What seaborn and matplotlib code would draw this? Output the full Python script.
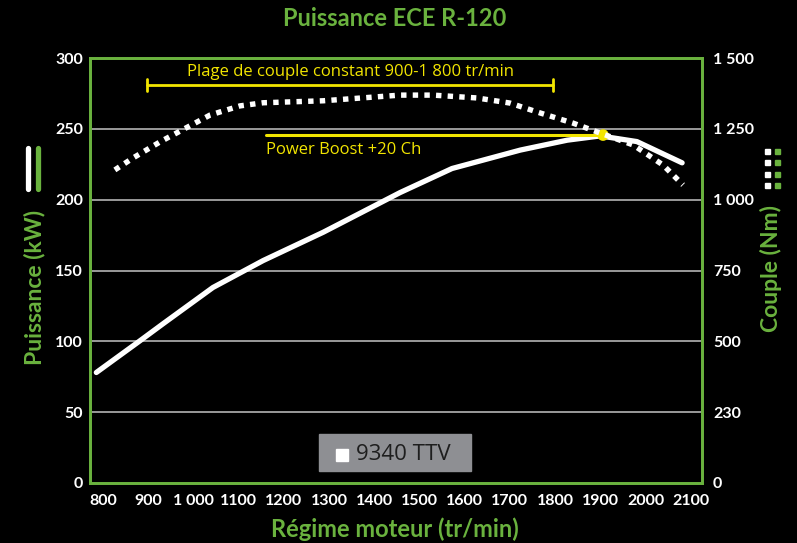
import matplotlib
matplotlib.use("Agg")
import matplotlib.pyplot as plt
import seaborn as sns
import pandas as pd
from matplotlib.lines import Line2D
from matplotlib.patches import Rectangle

# ---- data ----
power_rpm = [785, 882, 933, 1043, 1154, 1287, 1457, 1572, 1723, 1827, 1900, 1981, 2081]
power_kw = [78, 100.5, 112.5, 138, 157, 177, 205, 222, 235, 242, 245, 241, 226]
torque_rpm = [826, 866, 926, 975, 1037, 1103, 1154, 1287, 1457, 1530, 1627, 1700, 1767, 1840, 1900, 1973, 2039, 2083]
torque_nm = [1105, 1147, 1204, 1246, 1299, 1331, 1342, 1349, 1369, 1369, 1359, 1341, 1306, 1270, 1235, 1193, 1122, 1052]
x_ticks = [800, 900, 1000, 1100, 1200, 1300, 1400, 1500, 1600, 1700, 1800, 1900, 2000, 2100]
x_labels = ["800", "900", "1 000", "1100", "1200", "1300", "1400", "1500", "1600", "1700", "1800", "1900", "2000", "2100"]
left_ticks = [0, 50, 100, 150, 200, 250, 300]
right_ticks = [0, 250, 500, 750, 1000, 1250, 1500]
right_labels = ["0", "230", "500", "750", "1 000", "1 250", "1 500"]
boost_start, boost_end, boost_kw = 1160, 1906, 245.6
range_start, range_end, range_kw = 897, 1796, 281

GREEN = "#6ab23e"
YELLOW = "#f2e500"
BG = "#000000"

sns.set_style("dark")
plt.rcParams["font.family"] = ["Lato", "DejaVu Sans"]

fig = plt.figure(figsize=(7.97, 5.43), dpi=100, facecolor=BG)
ax = fig.add_axes([90/797, 1-483/543, (702-90)/797, (483-58)/543])
ax.set_facecolor(BG)
ax2 = ax.twinx()

dfp = pd.DataFrame({"rpm": power_rpm, "kw": power_kw})
dft = pd.DataFrame({"rpm": torque_rpm, "nm": torque_nm})

ax.set_xlim(771, 2125)
ax.set_ylim(0, 300)
ax2.set_ylim(0, 1500)

for g in [50, 100, 150, 200, 250]:
    ax.axhline(g, color="#b4b4b4", lw=1.2, zorder=1)

sns.lineplot(data=dfp, x="rpm", y="kw", ax=ax, color="white", lw=3.8,
             solid_capstyle="round", solid_joinstyle="round", zorder=3, sort=False)
sns.lineplot(data=dft, x="rpm", y="nm", ax=ax2, color="white", lw=3.9,
             dashes=False, zorder=3, sort=False)
ax2.lines[0].set_dashes((1.0, 1.15))
ax2.lines[0].set_dash_capstyle("butt")

# Power boost line and dot
ax.plot([boost_start, boost_end], [boost_kw, boost_kw], color=YELLOW, lw=2.2, zorder=4)
ax.scatter([boost_end], [boost_kw], s=70, color=YELLOW, zorder=6, edgecolor="none")
ax.text(boost_start, boost_kw - 5, "Power Boost +20 Ch", color=YELLOW, fontsize=12,
        family=["Open Sans", "DejaVu Sans"], ha="left", va="top", zorder=5)

# constant torque range
ax.plot([range_start, range_end], [range_kw, range_kw], color=YELLOW, lw=2, zorder=4)
for xr in [range_start, range_end]:
    ax.plot([xr, xr], [range_kw - 4, range_kw + 4], color=YELLOW, lw=2, zorder=4)
ax.text((range_start + range_end) / 2, range_kw + 3.5, "Plage de couple constant 900-1 800 tr/min",
        color=YELLOW, fontsize=12, family=["Open Sans", "DejaVu Sans"], ha="center", va="bottom")

# axes styling
for a in (ax, ax2):
    for s in a.spines.values():
        s.set_color(GREEN)
        s.set_linewidth(2)
    a.grid(False)
ax.set_xticks(x_ticks)
ax.set_xticklabels(x_labels)
ax.set_yticks(left_ticks)
ax2.set_yticks(right_ticks)
ax2.set_yticklabels(right_labels)
ax.tick_params(axis="both", length=0, colors="white", labelsize=11.5)
ax.tick_params(axis="y", pad=5)
ax.tick_params(axis="x", pad=8)
ax2.tick_params(axis="y", length=0, colors="white", labelsize=11.5, pad=8)
for lab in ax.get_xticklabels() + ax.get_yticklabels() + ax2.get_yticklabels():
    lab.set_fontweight("bold")
ax.set_xlabel("")
ax.set_ylabel("")
ax2.set_ylabel("")

# titles and labels
fig.text(395/797, 1-18/543, "Puissance ECE R-120", color=GREEN, fontsize=17,
         fontweight="bold", ha="center", va="center")
fig.text(395/797, 1-529/543, "Régime moteur (tr/min)", color=GREEN, fontsize=17,
         fontweight="bold", ha="center", va="center")
fig.text(35/797, 1-287/543, "Puissance (kW)", color=GREEN, fontsize=16.5,
         fontweight="bold", ha="center", va="center", rotation=90)
fig.text(771/797, 1-268/543, "Couple (Nm)", color=GREEN, fontsize=16.5,
         fontweight="bold", ha="center", va="center", rotation=90)

# axis legend glyphs
fig.add_artist(Line2D([28/797, 28/797], [1-189/543, 1-148/543], color="white", lw=3.8,
                      solid_capstyle="round", transform=fig.transFigure))
fig.add_artist(Line2D([38/797, 38/797], [1-189/543, 1-148/543], color=GREEN, lw=3.8,
                      solid_capstyle="round", transform=fig.transFigure))
for xx, cc in [(767.5, "white"), (777.5, GREEN)]:
    for k in range(4):
        yy = 151.5 + k * 11.3
        fig.add_artist(Rectangle((xx/797 - 2.5/797, 1-(yy + 2.5)/543), 5/797, 5/543,
                                 color=cc, transform=fig.transFigure))

# legend box
fig.add_artist(Rectangle((319/797, 1-471/543), 152/797, 37/543, color="#8e8f93",
                         transform=fig.transFigure))
fig.add_artist(Rectangle((336/797, 1-461/543), 12/797, 12/543, color="white",
                         transform=fig.transFigure))
fig.text(356/797, 1-454/543, "9340 TTV", color="#1e1e1e", fontsize=16,
         family=["Liberation Sans Narrow", "Open Sans", "DejaVu Sans"], ha="left", va="center")

fig.savefig("out.png", dpi=100, facecolor=BG)
